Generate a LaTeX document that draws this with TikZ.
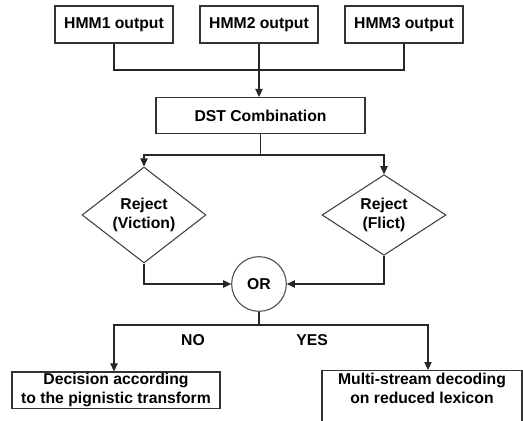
\documentclass[tikz,border=0pt]{standalone}
\usepackage{fontspec}
\setmainfont{Liberation Sans}
\usetikzlibrary{shapes.geometric,arrows.meta}

\tikzset{
  box/.style={draw=black!80, line width=0.8pt, fill=white, inner sep=2pt, align=center},
  decide/.style={diamond, draw=black!75, line width=0.8pt, inner sep=0pt,
    minimum width=93pt, minimum height=60pt, align=center},
  orgate/.style={circle, draw=black!70, line width=0.8pt, minimum size=41pt, inner sep=0pt},
  link/.style={line width=0.8pt, draw=black!85}
}

\begin{document}
\begin{tikzpicture}[x=0.75pt,y=-0.75pt,
    font=\fontsize{11.8}{14}\selectfont\bfseries,
    >={Triangle[length=6pt,width=5.5pt]}]
        \useasboundingbox (0,0) rectangle (523,420);
        % top row
        \node[box, minimum width=88.5pt, minimum height=27.75pt] (hmma) at (114,24.5) {HMM1 output};
        \node[box, minimum width=88.5pt, minimum height=27.75pt] (hmmb) at (259,24.5) {HMM2 output};
        \node[box, minimum width=88.5pt, minimum height=27.75pt] (hmmc) at (404,24.5) {HMM3 output};
        \coordinate (join) at (259,70);
        \draw[link] (hmma.south) |- (join) -| (hmmc.south);
        % combination
        \node[box, minimum width=156.75pt, minimum height=27pt] (dst) at (260.5,115.5) {DST Combination};
        \draw[link,->] (hmmb.south) -- (hmmb.south |- dst.north);
        \coordinate (split) at (260.5,155);
        % rejections
        \node[decide] (viction) at (144,215) {Reject\\(Viction)};
        \node[decide] (flict) at (384,215) {Reject\\(Flict)};
        \draw[link] (dst.south) -- (split);
        \draw[link,->] (split) -| (viction.north);
        \draw[link,->] (split) -| (flict.north);
        \node[orgate] (or) at (259,284) {OR};
        \draw[link,->] (viction.south) |- (or.west);
        \draw[link,->] (flict.south) |- (or.east);
        % outcomes
        \coordinate (fork) at (259,325);
        \node[box, minimum width=156pt, minimum height=27pt, inner sep=1pt] (pign) at (116,390) {Decision according\\to the pignistic transform};
        \node[box, minimum width=150pt, anchor=north, text depth=20pt] (multi) at (422,370) {Multi-stream decoding\\on reduced lexicon};
        \draw[link] (or.south) -- (fork);
        \draw[link,->] (fork) -| ([xshift=-1.5pt]pign.north);
        \draw[link,->] (fork) -| ([xshift=4.5pt]multi.north);
        \node (no) at (193,340) {NO};
        \node (yes) at (312,340) {YES};
\end{tikzpicture}
\end{document}
